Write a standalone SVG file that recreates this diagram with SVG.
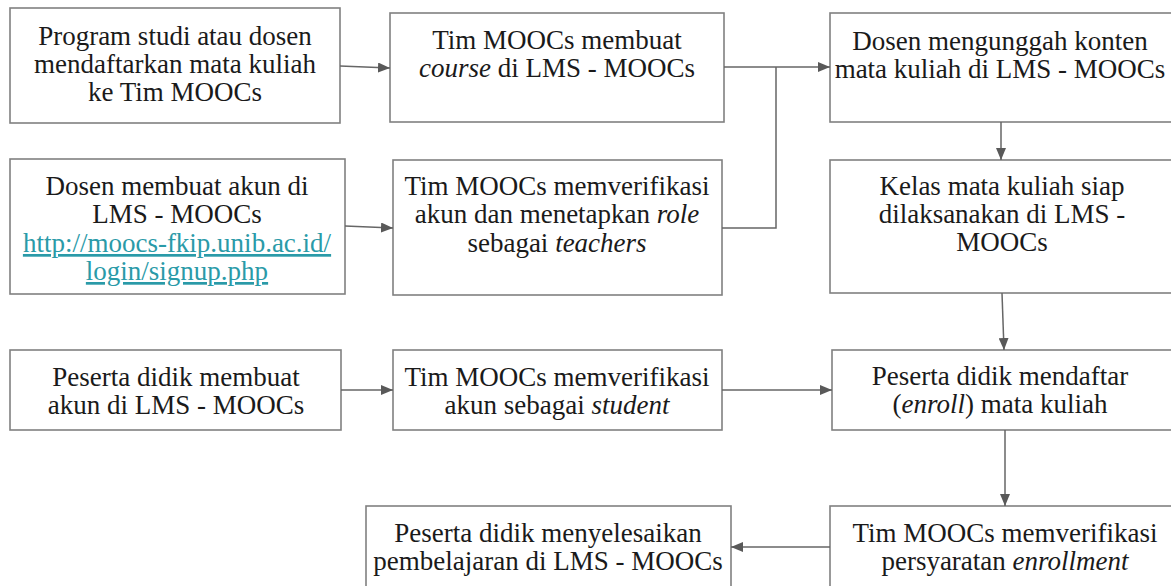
<svg xmlns="http://www.w3.org/2000/svg" width="1171" height="586" viewBox="0 0 1171 586">
<style>
.box{fill:#fff;stroke:#808080;stroke-width:1.6}
.t{font-family:"Liberation Serif","Times New Roman",serif;font-size:27px;fill:#1a1a1a;text-anchor:middle}
.i{font-style:italic}
.url{fill:#2a9aa8;text-decoration:underline}
.c{fill:none;stroke:#666;stroke-width:1.5}
</style>
<defs>
<marker id="ah" markerUnits="userSpaceOnUse" markerWidth="13" markerHeight="10" refX="12" refY="5" orient="auto">
<path d="M0,0 L12,5 L0,10 Z" fill="#595959"/>
</marker>
</defs>
<rect width="1171" height="586" fill="#fff"/>
<g id="n1"><rect class="box" x="10" y="8" width="330" height="115"/>
<text class="t" x="175" y="45">Program studi atau dosen</text>
<text class="t" x="175" y="73">mendaftarkan mata kuliah</text>
<text class="t" x="175" y="101">ke Tim MOOCs</text></g>
<g id="n2"><rect class="box" x="390" y="13" width="334" height="109"/>
<text class="t" x="557" y="49">Tim MOOCs membuat</text>
<text class="t" x="557" y="77"><tspan class="i">course</tspan> di LMS - MOOCs</text></g>
<g id="n3"><rect class="box" x="830" y="13" width="360" height="109"/>
<text class="t" x="1000" y="50">Dosen mengunggah konten</text>
<text class="t" x="1000" y="78">mata kuliah di LMS - MOOCs</text></g>
<g id="n4"><rect class="box" x="10" y="159" width="335" height="135"/>
<text class="t" x="177" y="195">Dosen membuat akun di</text>
<text class="t" x="177" y="223">LMS - MOOCs</text>
<text class="t url" x="177" y="252">http://moocs-fkip.unib.ac.id/</text>
<text class="t url" x="177" y="280">login/signup.php</text></g>
<g id="n5"><rect class="box" x="393" y="160" width="329" height="135"/>
<text class="t" x="557" y="195">Tim MOOCs memverifikasi</text>
<text class="t" x="557" y="223">akun dan menetapkan <tspan class="i">role</tspan></text>
<text class="t" x="557" y="252">sebagai <tspan class="i">teachers</tspan></text></g>
<g id="n6"><rect class="box" x="830" y="160" width="360" height="133"/>
<text class="t" x="1002" y="195">Kelas mata kuliah siap</text>
<text class="t" x="1002" y="223">dilaksanakan di LMS -</text>
<text class="t" x="1002" y="251">MOOCs</text></g>
<g id="n7"><rect class="box" x="10" y="350" width="331" height="80"/>
<text class="t" x="176" y="386">Peserta didik membuat</text>
<text class="t" x="176" y="414">akun di LMS - MOOCs</text></g>
<g id="n8"><rect class="box" x="393" y="350" width="329" height="80"/>
<text class="t" x="557" y="386">Tim MOOCs memverifikasi</text>
<text class="t" x="557" y="414">akun sebagai <tspan class="i">student</tspan></text></g>
<g id="n9"><rect class="box" x="832" y="350" width="360" height="80"/>
<text class="t" x="1000" y="385">Peserta didik mendaftar</text>
<text class="t" x="1000" y="413">(<tspan class="i">enroll</tspan>) mata kuliah</text></g>
<g id="n10"><rect class="box" x="366" y="506" width="365" height="100"/>
<text class="t" x="548" y="542">Peserta didik menyelesaikan</text>
<text class="t" x="548" y="570">pembelajaran di LMS - MOOCs</text></g>
<g id="n11"><rect class="box" x="830" y="506" width="360" height="100"/>
<text class="t" x="1005" y="542">Tim MOOCs memverifikasi</text>
<text class="t" x="1005" y="570">persyaratan <tspan class="i">enrollment</tspan></text></g>
<g id="connectors">
<path class="c" d="M340,66 L390,68" marker-end="url(#ah)"/>
<path class="c" d="M345,226 L393,228" marker-end="url(#ah)"/>
<path class="c" d="M724,67 L830,67" marker-end="url(#ah)"/>
<path class="c" d="M722,228 L776,228 L776,67"/>
<path class="c" d="M1001,122 L1001,160" marker-end="url(#ah)"/>
<path class="c" d="M1002,293 L1004,350" marker-end="url(#ah)"/>
<path class="c" d="M341,390 L393,390" marker-end="url(#ah)"/>
<path class="c" d="M722,390 L832,390" marker-end="url(#ah)"/>
<path class="c" d="M1005,430 L1005,506" marker-end="url(#ah)"/>
<path class="c" d="M830,547 L731,547" marker-end="url(#ah)"/>
</g>
</svg>
